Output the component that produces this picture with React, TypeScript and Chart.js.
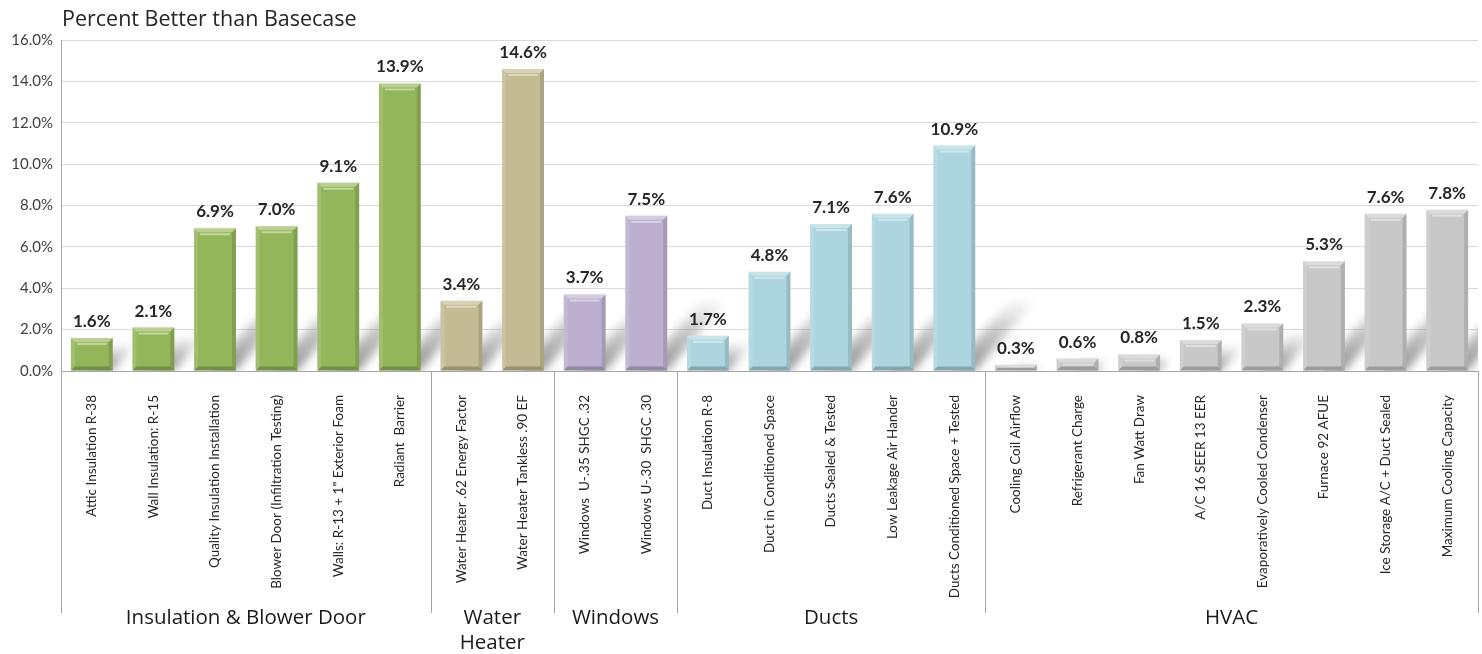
import React, { useEffect, useRef } from "react";
import { Chart, registerables } from "chart.js";

Chart.register(...registerables);

const titleText = "Percent Better than Basecase";

const categories = [
  "Attic Insulation R-38",
  "Wall Insulation: R-15",
  "Quality Insulation Installation",
  "Blower Door (Infiltration Testing)",
  "Walls: R-13 + 1\" Exterior Foam",
  "Radiant  Barrier",
  "Water Heater .62 Energy Factor",
  "Water Heater Tankless .90 EF",
  "Windows  U-.35 SHGC .32",
  "Windows U-.30  SHGC .30",
  "Duct Insulation R-8",
  "Duct in Conditioned Space",
  "Ducts Sealed & Tested",
  "Low Leakage Air Hander",
  "Ducts Conditioned Space + Tested",
  "Cooling Coil Airflow",
  "Refrigerant Charge",
  "Fan Watt Draw",
  "A/C 16 SEER 13 EER",
  "Evaporatively Cooled Condenser",
  "Furnace 92 AFUE",
  "Ice Storage A/C + Duct Sealed",
  "Maximum Cooling Capacity",
];

const values = [
  1.6, 2.1, 6.9, 7.0, 9.1, 13.9,
  3.4, 14.6,
  3.7, 7.5,
  1.7, 4.8, 7.1, 7.6, 10.9,
  0.3, 0.6, 0.8, 1.5, 2.3, 5.3, 7.6, 7.8,
];

const groupNames = [
  ["Insulation & Blower Door"],
  ["Water", "Heater"],
  ["Windows"],
  ["Ducts"],
  ["HVAC"],
];
const groupSizes = [6, 2, 2, 5, 8];
const groupColors = ["#94b65a", "#c3bb93", "#bcafd0", "#acd5e0", "#c8c8c8"];

const yMin = 0;
const yMax = 16;
const yStep = 2;

const barColors = groupSizes.flatMap((n, i) => Array(n).fill(groupColors[i]));

const shadowPlugin = {
  id: "barShadows",
  beforeDatasetsDraw(chart: any) {
    const { ctx, chartArea } = chart;
    const meta = chart.getDatasetMeta(0);
    ctx.save();
    ctx.beginPath();
    ctx.rect(chartArea.left, chartArea.top, chartArea.width, chartArea.height);
    ctx.clip();
    ctx.filter = "blur(5px)";
    meta.data.forEach((bar: any) => {
      const { x, y, base, width } = bar.getProps(["x", "y", "base", "width"], true);
      const hgt = base - y;
      const h = Math.min(hgt * 0.8, 70);
      const dx = h * 0.85;
      const xl = x - width * 0.1;
      const xr = x + width / 2;
      const g = ctx.createLinearGradient(0, base, 0, base - h);
      g.addColorStop(0, "rgba(105,105,105,0.75)");
      g.addColorStop(0.6, "rgba(140,140,140,0.45)");
      g.addColorStop(1, "rgba(180,180,180,0.1)");
      ctx.fillStyle = g;
      ctx.beginPath();
      ctx.moveTo(xl, base);
      ctx.lineTo(xr, base);
      ctx.lineTo(xr + dx, base - h);
      ctx.lineTo(xl + dx, base - h);
      ctx.closePath();
      ctx.fill();
    });
    ctx.restore();
  },
};

const bevelPlugin = {
  id: "barBevel",
  afterDatasetsDraw(chart: any) {
    const { ctx } = chart;
    const meta = chart.getDatasetMeta(0);
    ctx.save();
    meta.data.forEach((bar: any, i: number) => {
      const { x, y, base, width } = bar.getProps(["x", "y", "base", "width"], true);
      const xl = x - width / 2;
      const xr = x + width / 2;
      const b = Math.min(4, (base - y) / 2);
      const poly = (pts: number[][], fill: string) => {
        ctx.fillStyle = fill;
        ctx.beginPath();
        ctx.moveTo(pts[0][0], pts[0][1]);
        for (let k = 1; k < pts.length; k++) ctx.lineTo(pts[k][0], pts[k][1]);
        ctx.closePath();
        ctx.fill();
      };
      poly([[xl, y], [xr, y], [xr - b, y + b], [xl + b, y + b]], "rgba(255,255,255,0.35)");
      poly([[xl, y], [xl + b, y + b], [xl + b, base - b], [xl, base]], "rgba(255,255,255,0.12)");
      poly([[xr, y], [xr - b, y + b], [xr - b, base - b], [xr, base]], "rgba(0,0,0,0.12)");
      poly([[xl, base], [xl + b, base - b], [xr - b, base - b], [xr, base]], "rgba(0,0,0,0.22)");
      if (base - y > 10) {
        ctx.fillStyle = "rgba(255,255,240,0.45)";
        ctx.fillRect(xl + b + 2, y + b + 1, width - 2 * b - 4, 2);
      }
      ctx.fillStyle = "#262626";
      ctx.font = "bold 17px Lato";
      ctx.textAlign = "center";
      ctx.textBaseline = "alphabetic";
      ctx.fillText(values[i].toFixed(1) + "%", x, y - 11);
    });
    ctx.restore();
  },
};

const groupPlugin = {
  id: "groupsAndTitle",
  afterDraw(chart: any) {
    const { ctx, chartArea } = chart;
    const xs = chart.scales.x;
    ctx.save();
    ctx.fillStyle = "#262626";
    ctx.font = "21.5px 'Open Sans'";
    ctx.textAlign = "left";
    ctx.textBaseline = "middle";
    ctx.fillText(titleText, chartArea.left + 1, 20);

    const bounds: number[] = [0];
    groupSizes.forEach((n) => bounds.push(bounds[bounds.length - 1] + n));
    const px = bounds.map((b) => xs.getPixelForValue(b - 0.5));
    ctx.strokeStyle = "#a6a6a6";
    ctx.lineWidth = 1;
    px.forEach((p) => {
      const xx = Math.round(p) + 0.5;
      ctx.beginPath();
      ctx.moveTo(xx, chartArea.bottom);
      ctx.lineTo(xx, 613);
      ctx.stroke();
    });
    ctx.fillStyle = "#1a1a1a";
    ctx.font = "20.5px 'Open Sans'";
    ctx.textAlign = "center";
    groupNames.forEach((lines, gi) => {
      const cx = (px[gi] + px[gi + 1]) / 2;
      lines.forEach((ln, li) => {
        ctx.fillText(ln, cx, 618 + li * 25);
      });
    });
    ctx.restore();
  },
};

export default function App() {
  const ref = useRef<HTMLCanvasElement | null>(null);
  useEffect(() => {
    if (!ref.current) return;
    const chart = new Chart(ref.current, {
      type: "bar",
      data: {
        labels: categories,
        datasets: [
          {
            data: values,
            backgroundColor: barColors,
            borderWidth: 0,
            barPercentage: 0.68,
            categoryPercentage: 1,
          },
        ],
      },
      options: {
        animation: false,
        responsive: true,
        maintainAspectRatio: false,
        layout: { padding: { top: 40, right: 4, left: 0, bottom: 0 } },
        plugins: {
          legend: { display: false },
          title: { display: false },
          tooltip: { enabled: false },
        },
        scales: {
          x: {
            grid: { display: false },
            border: { display: true, color: "#a6a6a6" },
            ticks: {
              autoSkip: false,
              maxRotation: 90,
              minRotation: 90,
              padding: 16,
              color: "#262626",
              font: { family: "Lato", size: 13.5 },
            },
            afterFit: (s: any) => {
              s.height = 283;
            },
          },
          y: {
            min: yMin,
            max: yMax,
            ticks: {
              stepSize: yStep,
              padding: 8,
              color: "#404040",
              font: { family: "Lato", size: 15 },
              callback: (v: any) => Number(v).toFixed(1) + "%",
            },
            grid: { color: "#d9d9d9", drawTicks: false },
            border: { display: true, color: "#a6a6a6" },
            afterFit: (s: any) => {
              s.width = 61;
            },
          },
        },
      },
      plugins: [shadowPlugin, bevelPlugin, groupPlugin],
    });
    return () => chart.destroy();
  }, []);
  return (
    <div style={{ position: "fixed", left: 0, top: 0, width: 1482, height: 654, background: "#fff" }}>
      <canvas ref={ref} />
    </div>
  );
}
